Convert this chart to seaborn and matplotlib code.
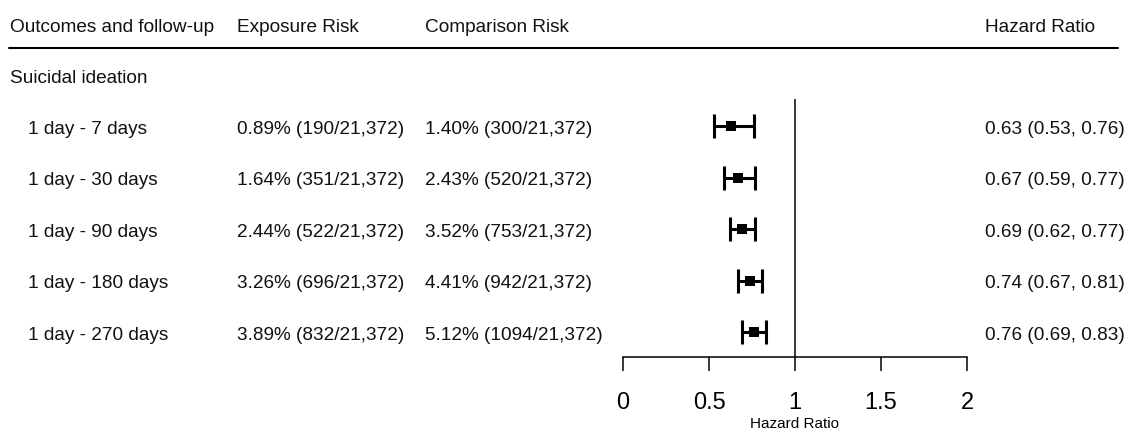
import matplotlib
matplotlib.use("Agg")
import matplotlib.pyplot as plt
import seaborn as sns
import pandas as pd
from matplotlib.lines import Line2D
from matplotlib.transforms import blended_transform_factory

# ---- data ----
outcome = "Suicidal ideation"
periods = ["1 day - 7 days", "1 day - 30 days", "1 day - 90 days",
           "1 day - 180 days", "1 day - 270 days"]
exposure_risk = ["0.89% (190/21,372)", "1.64% (351/21,372)", "2.44% (522/21,372)",
                 "3.26% (696/21,372)", "3.89% (832/21,372)"]
comparison_risk = ["1.40% (300/21,372)", "2.43% (520/21,372)", "3.52% (753/21,372)",
                   "4.41% (942/21,372)", "5.12% (1094/21,372)"]
hr = [0.63, 0.67, 0.69, 0.74, 0.76]
hr_low = [0.53, 0.59, 0.62, 0.67, 0.69]
hr_high = [0.76, 0.77, 0.77, 0.81, 0.83]
headers = ["Outcomes and follow-up", "Exposure Risk", "Comparison Risk", "Hazard Ratio"]
xticks = [0, 0.5, 1, 1.5, 2]
xtick_labels = ["0", "0.5", "1", "1.5", "2"]

sns.set_theme(style="white")
plt.rcParams["font.family"] = ["Liberation Sans", "DejaVu Sans"]

W, H = 1128, 431
fig = plt.figure(figsize=(W / 100, H / 100), dpi=100)

row0_px, row_step = 127, 51.5
def row_of(px):
    return (px - row0_px) / row_step

ax_top_px, ax_bot_px = 100, 358
ax_left_px, ax_right_px = 623, 967
ax = fig.add_axes([ax_left_px / W, 1 - ax_bot_px / H,
                   (ax_right_px - ax_left_px) / W, (ax_bot_px - ax_top_px) / H])

df = pd.DataFrame({"row": range(len(hr)), "hr": hr, "lo": hr_low, "hi": hr_high})
ax.errorbar(df["hr"], df["row"], xerr=[df["hr"] - df["lo"], df["hi"] - df["hr"]],
            fmt="none", ecolor="black", elinewidth=2.2, capsize=8.3, capthick=2.2, zorder=2)
sns.scatterplot(data=df, x="hr", y="row", marker="s", s=55, color="black",
                edgecolor="black", linewidth=0, ax=ax, zorder=3, legend=False)
ax.axvline(1, color="black", lw=1.1, zorder=1)

ax.set_xlim(0, 2)
ax.set_ylim(row_of(ax_bot_px), row_of(ax_top_px))
for s in ["top", "right", "left"]:
    ax.spines[s].set_visible(False)
ax.spines["bottom"].set_linewidth(1.1)
ax.spines["bottom"].set_color("black")
ax.set_yticks([])
ax.set_xticks(xticks)
ax.set_xticklabels(xtick_labels, fontsize=17)
ax.tick_params(axis="x", bottom=True, length=10.3, width=1.1, color="black", pad=14,
               labelcolor="black")
ax.set_xlabel("Hazard Ratio", fontsize=11, labelpad=2, color="black")
ax.set_ylabel("")
ax.patch.set_alpha(0)

trans = blended_transform_factory(fig.transFigure, ax.transData)
fs = 13.7
col_px = [10, 237, 425, 985]
val_px = [28, 237, 425, 985]
text_shift = 2.5 / row_step  # visual centring of text on the row

# header
for t, xp in zip(headers, col_px):
    fig.text(xp / W, row_of(25) + text_shift, t, transform=trans, fontsize=fs,
             va="center", ha="left", color="#111111")
fig.add_artist(Line2D([9 / W, 1118 / W], [1 - 49 / H, 1 - 49 / H],
                      transform=fig.transFigure, color="black", lw=1.5))
fig.text(10 / W, row_of(76) + text_shift, outcome, transform=trans, fontsize=fs,
         va="center", ha="left", color="#111111")

for i in range(len(hr)):
    hr_txt = f"{hr[i]:.2f} ({hr_low[i]:.2f}, {hr_high[i]:.2f})"
    for t, xp in zip([periods[i], exposure_risk[i], comparison_risk[i], hr_txt], val_px):
        fig.text(xp / W, i + text_shift, t, transform=trans, fontsize=fs, va="center",
                 ha="left", color="#111111")

fig.savefig("out.png", dpi=100)
